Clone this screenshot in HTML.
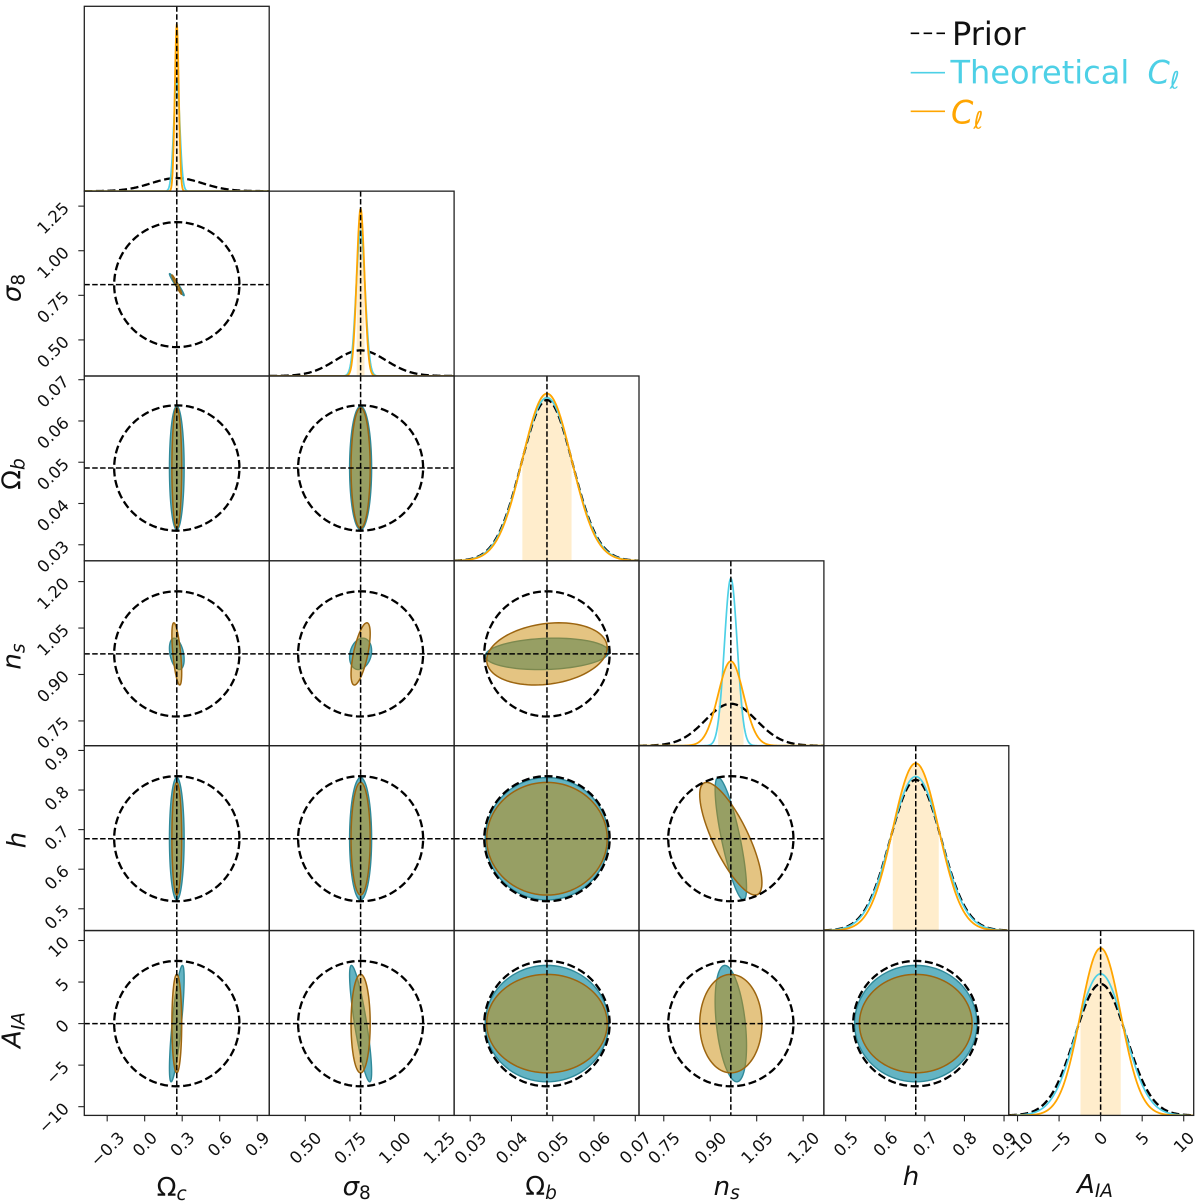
<!DOCTYPE html>
<html lang="en">
<head>
<meta charset="utf-8">
<title>Corner plot of cosmological parameter constraints</title>
<style>
  html, body { margin: 0; padding: 0; background: #ffffff; }
  svg { display: block; font-family: "DejaVu Sans", "Liberation Sans", sans-serif; }
</style>
</head>
<body>
<svg id="chart" xmlns="http://www.w3.org/2000/svg" width="1200" height="1202" viewBox="0 0 1200 1202">
  <rect x="0" y="0" width="1200" height="1202" fill="#ffffff"/>
  <defs id="clip-defs"></defs>
  <g id="panels"></g>
  <g id="ticks"></g>

  <g font-size="26" fill="#111" text-anchor="middle">
    <text x="171.7" y="1196">Ω<tspan font-style="italic" font-size="18.5" dy="4">c</tspan></text>
    <text x="356.7" y="1195"><tspan font-style="italic">σ</tspan><tspan font-size="18.5" dy="4">8</tspan></text>
    <text x="541" y="1195">Ω<tspan font-style="italic" font-size="18.5" dy="4">b</tspan></text>
    <text x="726.7" y="1195"><tspan font-style="italic">n</tspan><tspan font-style="italic" font-size="18.5" dy="4">s</tspan></text>
    <text x="911" y="1185" font-style="italic">h</text>
    <text x="1095" y="1193"><tspan font-style="italic">A</tspan><tspan font-style="italic" font-size="18.5" dy="4">IA</tspan></text>
  </g>

  <g font-size="26" fill="#111" text-anchor="middle">
    <text transform="translate(20.7 288) rotate(-90)"><tspan font-style="italic">σ</tspan><tspan font-size="18.5" dy="4">8</tspan></text>
    <text transform="translate(20.7 474) rotate(-90)">Ω<tspan font-style="italic" font-size="18.5" dy="4">b</tspan></text>
    <text transform="translate(20.7 656.5) rotate(-90)"><tspan font-style="italic">n</tspan><tspan font-style="italic" font-size="18.5" dy="4">s</tspan></text>
    <text transform="translate(25.7 840) rotate(-90)" font-style="italic">h</text>
    <text transform="translate(20.7 1030) rotate(-90)"><tspan font-style="italic">A</tspan><tspan font-style="italic" font-size="18.5" dy="4">IA</tspan></text>
  </g>

  <g font-size="32">
    <g>
      <line x1="910.7" y1="33.3" x2="945" y2="33.3" stroke="#000" stroke-width="1.6" stroke-dasharray="8.5 4.4"/>
      <text x="952" y="45" fill="#111">Prior</text>
    </g>
    <g>
      <line x1="910.7" y1="72.7" x2="945" y2="72.7" stroke="#4dd0e6" stroke-width="1.6"/>
      <text x="950.5" y="83.3" fill="#4dd0e6">Theoretical <tspan font-style="italic" dx="8">C</tspan><tspan font-style="italic" font-size="24" dy="5">ℓ</tspan></text>
    </g>
    <g>
      <line x1="910.7" y1="111.3" x2="945" y2="111.3" stroke="#ffa500" stroke-width="1.6"/>
      <text x="951" y="123.3" fill="#ffa500"><tspan font-style="italic">C</tspan><tspan font-style="italic" font-size="24" dy="5">ℓ</tspan></text>
    </g>
  </g>
</svg>

<script>
// ---- Chart data ----
const paramSlugs = ['omega-c', 'sigma-8', 'omega-b', 'n-s', 'h', 'a-ia'];
const axisMin = [-0.483, 0.2977, 0.0261, 0.670, 0.445, -11.05];
const axisMax = [0.996, 1.334, 0.0709, 1.267, 0.912, 11.2];
const fiducial = [0.2568, 0.81, 0.0486, 0.9665, 0.677, 0];

const priorSigma = [0.2045, 0.143, 0.0062, 0.0825, 0.0645, 3.08];
const theorySigma = [0.024, 0.0252, 0.00611, 0.0207, 0.0631, 2.86];
const clSigma = [0.016, 0.0219, 0.00596, 0.041, 0.0581, 2.42];

// Lower-triangular correlation coefficients, one row per parameter
const theoryCorr = [
  [],
  [-0.97],
  [0, 0],
  [-0.35, 0.2, 0.13],
  [0, 0, 0, -0.8],
  [0.77, -0.83, 0, -0.38, 0]
];
const clCorr = [
  [],
  [-0.97],
  [0, 0],
  [-0.6, 0.65, 0.2],
  [0, 0, 0, -0.78],
  [0, 0, 0, 0, 0]
];

const contourLevel = 2.45;

const tickValues = [
  [-0.3, 0, 0.3, 0.6, 0.9],
  [0.5, 0.75, 1, 1.25],
  [0.03, 0.04, 0.05, 0.06, 0.07],
  [0.75, 0.9, 1.05, 1.2],
  [0.5, 0.6, 0.7, 0.8, 0.9],
  [-10, -5, 0, 5, 10]
];
const tickLabels = [
  ['−0.3', '0.0', '0.3', '0.6', '0.9'],
  ['0.50', '0.75', '1.00', '1.25'],
  ['0.03', '0.04', '0.05', '0.06', '0.07'],
  ['0.75', '0.90', '1.05', '1.20'],
  ['0.5', '0.6', '0.7', '0.8', '0.9'],
  ['−10', '−5', '0', '5', '10']
];

// ---- Layout ----
const SVG_NS = 'http://www.w3.org/2000/svg';
const ORIGIN_X = 84.3, ORIGIN_Y = 6.3, PANEL_W = 184.9, PANEL_H = 184.85;
const COUNT = paramSlugs.length;
const TICK_FONT = 16.5, TICK_DIGIT_H = 12;

function colLeft(c) { return ORIGIN_X + c * PANEL_W; }
function rowTop(r) { return ORIGIN_Y + r * PANEL_H; }
function xScale(c, v) { return colLeft(c) + (v - axisMin[c]) / (axisMax[c] - axisMin[c]) * PANEL_W; }
function yScale(r, v) { return rowTop(r) + PANEL_H - (v - axisMin[r]) / (axisMax[r] - axisMin[r]) * PANEL_H; }

function make(tag, attrs, parent) {
  const el = document.createElementNS(SVG_NS, tag);
  for (const k in attrs) el.setAttribute(k, attrs[k]);
  parent.appendChild(el);
  return el;
}
function density(v, mean, sigma) {
  const z = (v - mean) / sigma;
  return Math.exp(-0.5 * z * z) / (sigma * Math.sqrt(2 * Math.PI));
}
function curvePath(c, mean, sigma, yMax, from, to, closed) {
  const base = rowTop(c) + PANEL_H;
  const n = 400;
  let d = '';
  for (let i = 0; i <= n; i++) {
    const v = from + (to - from) * i / n;
    const x = xScale(c, v);
    const y = base - density(v, mean, sigma) / yMax * PANEL_H;
    d += (i ? 'L' : 'M') + x.toFixed(2) + ' ' + y.toFixed(2);
  }
  if (closed) d += 'L' + xScale(c, to).toFixed(2) + ' ' + base + 'L' + xScale(c, from).toFixed(2) + ' ' + base + 'Z';
  return d;
}
function ellipsePath(c, r, sx, sy, rho) {
  const n = 96;
  const q = Math.sqrt(1 - rho * rho);
  let d = '';
  for (let i = 0; i < n; i++) {
    const t = 2 * Math.PI * i / n;
    const vx = fiducial[c] + contourLevel * sx * Math.cos(t);
    const vy = fiducial[r] + contourLevel * sy * (rho * Math.cos(t) + q * Math.sin(t));
    d += (i ? 'L' : 'M') + xScale(c, vx).toFixed(2) + ' ' + yScale(r, vy).toFixed(2);
  }
  return d + 'Z';
}

const panelsRoot = document.getElementById('panels');
const ticksRoot = document.getElementById('ticks');
const defsRoot = document.getElementById('clip-defs');

for (let r = 0; r < COUNT; r++) {
  for (let c = 0; c <= r; c++) {
    const clip = make('clipPath', { id: 'clip-' + r + '-' + c }, defsRoot);
    make('rect', { x: colLeft(c), y: rowTop(r), width: PANEL_W, height: PANEL_H }, clip);

    const panel = make('g', {}, panelsRoot);
    
    
    const inner = make('g', { 'clip-path': 'url(#clip-' + r + '-' + c + ')' }, panel);

    if (r === c) {
      const peak = Math.max(1 / priorSigma[c], 1 / theorySigma[c], 1 / clSigma[c]) / Math.sqrt(2 * Math.PI);
      const yMax = peak * 1.105;

      const band = make('path', {
        d: curvePath(c, fiducial[c], clSigma[c], yMax, fiducial[c] - clSigma[c], fiducial[c] + clSigma[c], true),
        fill: '#ffa500', 'fill-opacity': 0.2, stroke: 'none'
      }, inner);
      
      

      const priorLine = make('path', {
        d: curvePath(c, fiducial[c], priorSigma[c], yMax, axisMin[c], axisMax[c], false),
        fill: 'none', stroke: '#000', 'stroke-width': 2.3, 'stroke-dasharray': '8 3.6'
      }, inner);
      
      

      const theoryLine = make('path', {
        d: curvePath(c, fiducial[c], theorySigma[c], yMax, axisMin[c], axisMax[c], false),
        fill: 'none', stroke: '#4dd0e6', 'stroke-width': 1.7
      }, inner);
      
      

      const clLine = make('path', {
        d: curvePath(c, fiducial[c], clSigma[c], yMax, axisMin[c], axisMax[c], false),
        fill: 'none', stroke: '#ffa500', 'stroke-width': 1.8
      }, inner);
      
      
    } else {
      const theoryShape = make('path', {
        d: ellipsePath(c, r, theorySigma[c], theorySigma[r], theoryCorr[r][c]),
        fill: '#64b4c3', stroke: '#2f8999', 'stroke-width': 1.4
      }, inner);
      
      

      const clFill = make('path', {
        d: ellipsePath(c, r, clSigma[c], clSigma[r], clCorr[r][c]),
        fill: '#c98a05', 'fill-opacity': 0.5, stroke: '#9c6510', 'stroke-width': 1.5
      }, inner);
      
      

      const priorShape = make('path', {
        d: ellipsePath(c, r, priorSigma[c], priorSigma[r], 0),
        fill: 'none', stroke: '#000', 'stroke-width': 2.3, 'stroke-dasharray': '8 3.6'
      }, inner);
      
      

      const hLine = make('line', {
        x1: colLeft(c), x2: colLeft(c) + PANEL_W,
        y1: yScale(r, fiducial[r]), y2: yScale(r, fiducial[r]),
        stroke: '#000', 'stroke-width': 1.5, 'stroke-dasharray': '5.5 2.4'
      }, inner);
      
      
    }

    const vLine = make('line', {
      x1: xScale(c, fiducial[c]), x2: xScale(c, fiducial[c]),
      y1: rowTop(r), y2: rowTop(r) + PANEL_H,
      stroke: '#000', 'stroke-width': 1.5, 'stroke-dasharray': '5.5 2.4'
    }, inner);
    
    

    const frame = make('rect', {
      x: colLeft(c), y: rowTop(r), width: PANEL_W, height: PANEL_H,
      fill: 'none', stroke: '#222', 'stroke-width': 1.3
    }, panel);
    
    
  }
}

function placeTickLabel(text, cx, cy) {
  text.setAttribute('transform', 'translate(' + cx.toFixed(2) + ' ' + cy.toFixed(2) + ') rotate(-45)');
}

// x ticks along the bottom row
const bottomEdge = rowTop(COUNT - 1) + PANEL_H;
for (let c = 0; c < COUNT; c++) {
  tickValues[c].forEach(function (v, i) {
    const x = xScale(c, v);
    const mark = make('line', { x1: x, x2: x, y1: bottomEdge, y2: bottomEdge + 6, stroke: '#222', 'stroke-width': 1.1 }, ticksRoot);
    
    
    const label = make('text', { x: 0, y: TICK_DIGIT_H / 2, 'text-anchor': 'middle', 'font-size': TICK_FONT, fill: '#111' }, ticksRoot);
    label.textContent = tickLabels[c][i];
    
    
    const span = (label.getComputedTextLength() + TICK_DIGIT_H) * Math.SQRT1_2;
    placeTickLabel(label, x, bottomEdge + 15 + span / 2);
  });
}

// y ticks along the left column (first row has none)
for (let r = 1; r < COUNT; r++) {
  tickValues[r].forEach(function (v, i) {
    const y = yScale(r, v);
    const mark = make('line', { x1: ORIGIN_X - 6, x2: ORIGIN_X, y1: y, y2: y, stroke: '#222', 'stroke-width': 1.1 }, ticksRoot);
    
    
    const label = make('text', { x: 0, y: TICK_DIGIT_H / 2, 'text-anchor': 'middle', 'font-size': TICK_FONT, fill: '#111' }, ticksRoot);
    label.textContent = tickLabels[r][i];
    
    
    const span = (label.getComputedTextLength() + TICK_DIGIT_H) * Math.SQRT1_2;
    placeTickLabel(label, 70 - span / 2, y - 5.5 + span / 2);
  });
}
</script>
</body>
</html>
